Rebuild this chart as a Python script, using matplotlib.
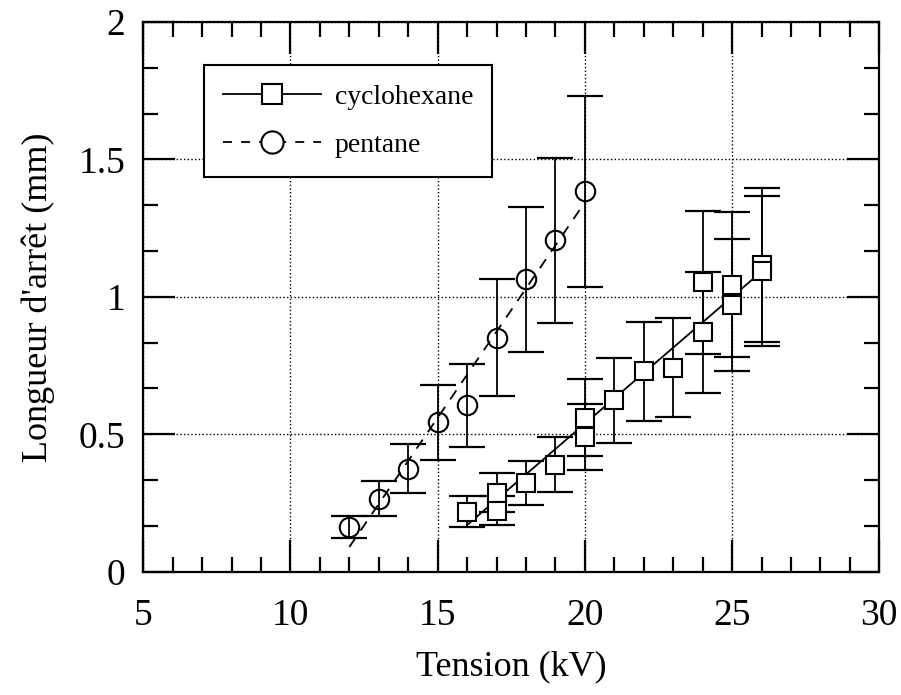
import matplotlib
matplotlib.use('Agg')
import matplotlib.pyplot as plt
from matplotlib.lines import Line2D
from matplotlib.ticker import MultipleLocator

plt.rcParams['font.family'] = ['Liberation Serif', 'DejaVu Serif']

# cyclohexane : tension (kV), longueur d'arret (mm), erreur
cyc_x = [16, 17, 17, 18, 19, 20, 20, 21, 22, 23, 24, 24, 25, 25, 26, 26]
cyc_y = [0.219, 0.288, 0.222, 0.324, 0.39, 0.56, 0.49, 0.623, 0.729, 0.743,
         1.053, 0.871, 1.045, 0.969, 1.115, 1.093]
cyc_err = [0.055, 0.072, 0.052, 0.08, 0.1, 0.14, 0.12, 0.155, 0.18, 0.18,
           0.26, 0.22, 0.262, 0.24, 0.28, 0.273]
cyc_fit_x = [16, 26]
cyc_fit_y = [0.17, 1.092]

# pentane
pen_x = [12, 13, 14, 15, 16, 17, 18, 19, 20]
pen_y = [0.164, 0.266, 0.375, 0.543, 0.605, 0.852, 1.064, 1.206, 1.384]
pen_err = [0.04, 0.064, 0.09, 0.135, 0.15, 0.213, 0.264, 0.3, 0.348]
pen_fit_x = [12, 20]
pen_fit_y = [0.09, 1.344]

xticks = [5, 10, 15, 20, 25, 30]
yticks = [0, 0.5, 1, 1.5, 2]
ytick_labels = ['0', '0.5', '1', '1.5', '2']

fig = plt.figure(figsize=(9.01, 6.95), dpi=100)
ax = fig.add_axes([0.1590, 0.1774, 0.8169, 0.7909])

# error bars
ax.errorbar(cyc_x, cyc_y, yerr=cyc_err, fmt='none', ecolor='black',
            elinewidth=1.3, capsize=13, capthick=1.6, zorder=2)
ax.errorbar(pen_x, pen_y, yerr=pen_err, fmt='none', ecolor='black',
            elinewidth=1.3, capsize=13, capthick=1.6, zorder=2)

# fitted lines
ax.plot(cyc_fit_x, cyc_fit_y, '-', color='black', lw=1.3, zorder=3)
ax.plot(pen_fit_x, pen_fit_y, color='black', lw=1.3, dashes=(6, 5), zorder=3)

# markers
ax.plot(cyc_x, cyc_y, 's', ms=13, mfc='white', mec='black', mew=1.5, zorder=4)
ax.plot(pen_x, pen_y, 'o', ms=14, mfc='none', mec='black', mew=1.5, zorder=4)

ax.set_xlim(5, 30)
ax.set_ylim(0, 2)
ax.set_xticks(xticks)
ax.set_yticks(yticks)
ax.set_yticklabels(ytick_labels)
ax.xaxis.set_minor_locator(MultipleLocator(1))
ax.yaxis.set_minor_locator(MultipleLocator(0.5 / 3))

ax.tick_params(which='both', direction='in', top=True, right=True,
               width=1.6, labelsize=27)
ax.tick_params(axis='x', which='major', length=23, pad=19)
ax.tick_params(axis='y', which='major', length=23, pad=13)
ax.tick_params(which='minor', length=11)
for s in ax.spines.values():
    s.set_linewidth(1.6)

ax.grid(True, which='major', color='black', linestyle=':', linewidth=1.0)
ax.set_axisbelow(True)

ax.set_xlabel('Tension (kV)', fontsize=26, labelpad=13)
ax.set_ylabel("Longueur d'arrêt (mm)", fontsize=26, labelpad=17)

handles = [
    Line2D([], [], color='black', lw=1.3, marker='s', ms=14, mfc='white',
           mec='black', mew=1.5),
    Line2D([], [], color='black', lw=1.3, dashes=(5, 5), marker='o', ms=16,
           mfc='white', mec='black', mew=1.5),
]
leg = ax.legend(handles, ['cyclohexane', 'pentane'], loc='upper left',
                bbox_to_anchor=(0.0825, 0.9218), borderaxespad=0,
                fontsize=20, numpoints=1, handlelength=3.5, handletextpad=0.5,
                labelspacing=0.8, borderpad=0.7, fancybox=False,
                framealpha=1, edgecolor='black')
leg.get_frame().set_linewidth(1.5)

fig.savefig('out.png', dpi=100)
